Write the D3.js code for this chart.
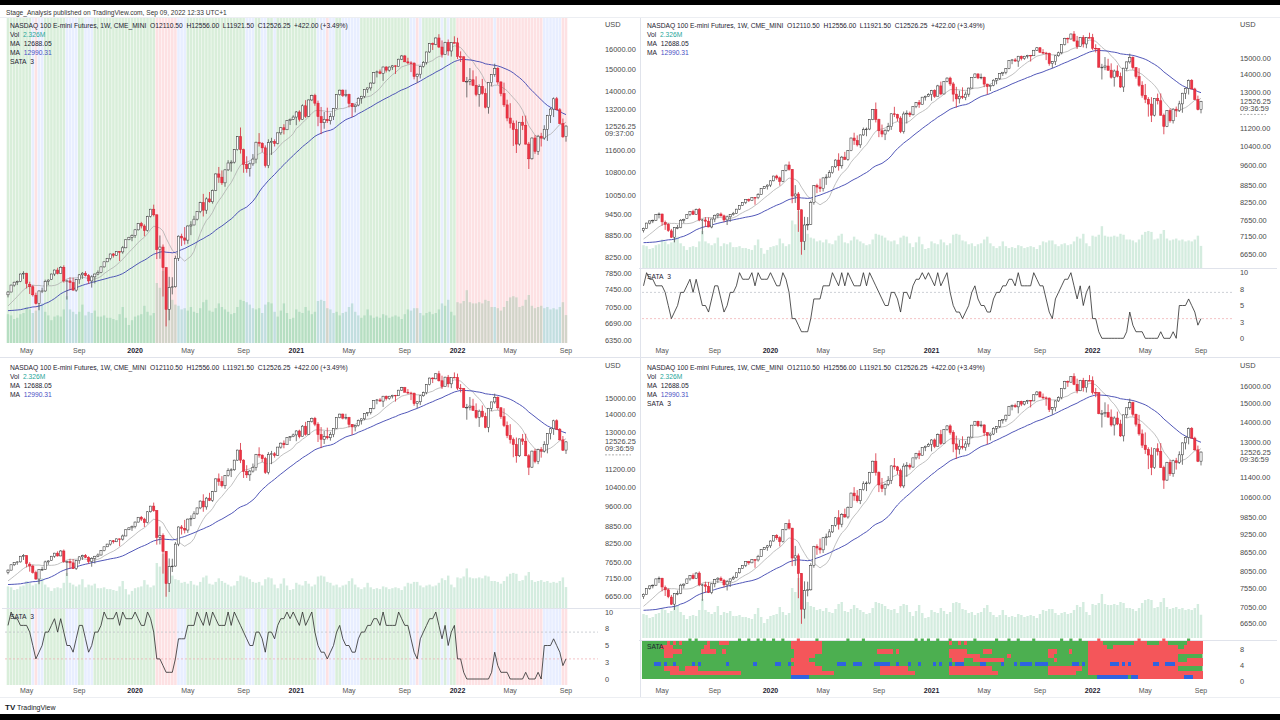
<!DOCTYPE html>
<html lang="en">
<head>
<meta charset="UTF-8">
<script src="https://d3js.org/d3.v7.min.js"></script>
<title>NASDAQ 100 E-mini Futures weekly - Stage Analysis</title>
<style>
  body { margin: 0; background: #000; }
  svg { display: block; font-family: "Liberation Sans", Arial, sans-serif; }
</style>
</head>
<body>
<script>
// ---- data (weekly bars, NQ continuous, Mar 25 2019 .. Sep 5 2022) ----
const firstWeek = new Date(2019, 2, 25);
const lastWeek = new Date(2022, 8, 5);

const opens = [
  7330,7395,7560,7630,7650,7830,7850,7580,7520,7320,
  7130,7420,7420,7650,7700,7830,7930,7840,8000,7650,
  7660,7620,7440,7690,7810,7850,7790,7660,7760,7830,
  7870,8010,8140,8230,8345,8310,8410,8400,8510,8730,
  8800,8850,9010,9190,9120,8990,9400,9620,9450,8460,
  8530,7990,7000,7500,7520,8230,8830,8780,8720,9120,
  9150,9320,9550,9820,9590,9940,9850,10210,10760,10650,
  10460,10900,11140,11170,11620,12110,11620,11090,10940,11110,
  11280,11900,11860,11690,11050,11890,11930,11850,12260,12460,
  12380,12750,12800,12890,13100,12800,13360,12920,13610,13800,
  13470,12910,12660,12800,12740,12910,13240,13840,14040,13810,
  13850,13460,13320,13390,13680,13770,14070,14140,14360,14840,
  14880,14810,15110,14960,15110,15170,15140,15490,15650,15360,
  15310,15300,14660,14770,15140,15330,15850,16280,16230,16570,
  16100,15720,16340,15900,16330,16320,15620,15610,14440,14440,
  14510,14260,13850,14210,13900,13300,14380,14760,15040,14410,
  13890,13398.75,12850,12640,12390,11830,12680,12560,11830,11290,
  12060,11560,12130,12060,12400,12960,13220,13660,13190,12630,
  12110.5
];
const highs = [
  7420,7570,7640,7670,7840,7900,7860,7640,7560,7380,
  7430,7500,7690,7700,7840,7940,7990,8030,8050,7690,
  7750,7740,7700,7830,7880,7900,7830,7800,7840,7920,
  8020,8140,8240,8350,8370,8420,8420,8560,8740,8810,
  8880,9030,9200,9240,9170,9420,9630,9760,9460,8850,
  8600,8000,7760,7750,8300,8850,8900,9090,9140,9260,
  9420,9560,9850,10100,9990,10160,10240,10780,11000,10880,
  10920,11240,11240,11640,12130,12470,11660,11380,11160,11460,
  11920,12250,11900,11780,12010,12070,12010,12270,12490,12600,
  12760,12830,12960,13140,13170,13420,13600,13630,13840,13880,
  13580,13310,13100,13280,13050,13260,13850,14060,14070,14060,
  13880,13480,13430,13730,13790,14080,14150,14390,14860,14940,
  14990,15130,15150,15130,15200,15190,15510,15700,15700,15560,
  15390,15330,14800,15170,15400,15860,16310,16330,16600,16770,
  16440,16370,16490,16350,16660,16580,15880,15630,14640,15060,
  14950,14670,14300,14550,14120,14400,14770,15270,15100,14440,
  14380,13620,13470,12750,12750,12690,12940,12950,11910,12080,
  12170,12180,12260,12560,12980,13270,13720,13740,13260,12830,
  12556
];
const lows = [
  7270,7390,7520,7560,7630,7710,7480,7350,7290,7110,
  6980,7370,7400,7560,7690,7780,7820,7830,7620,7220,
  7440,7430,7400,7590,7710,7770,7590,7500,7600,7800,
  7850,7990,8130,8180,8250,8300,8160,8350,8500,8720,
  8690,8780,8990,9050,8830,8960,9370,9400,8210,8220,
  7290,6630,6760,7340,7500,8160,8560,8600,8620,8860,
  9140,9280,9500,9400,9480,9820,9790,10190,10460,10390,
  10330,10860,10840,11120,11590,11480,10800,10800,10670,11040,
  11130,11740,11530,10980,10960,11430,11740,11820,12180,12200,
  12370,12570,12770,12560,12710,12790,12850,12900,13560,13360,
  12520,12210,12420,12650,12590,12770,13220,13800,13740,13730,
  13290,12890,13080,13340,13450,13690,13920,14020,14320,14620,
  14770,14460,14850,14890,14970,14780,15130,15450,15350,15240,
  14870,14530,14380,14570,15080,15230,15800,15950,16200,16050,
  15570,15700,15670,15620,16300,15500,15350,14410,13720,14260,
  14220,13770,13320,13840,13250,13030,14220,14650,14290,13770,
  13310,12720,12440,11760,11500,11770,12370,11810,10930,11260,
  11470,11430,11740,11990,11950,12650,12890,13170,12600,12070,
  11921.5
];
const closes = [
  7395,7560,7630,7650,7830,7850,7600,7520,7330,7130,
  7420,7420,7650,7680,7830,7930,7840,8000,7660,7660,
  7620,7440,7690,7810,7850,7790,7660,7760,7830,7870,
  8010,8140,8230,8345,8310,8410,8400,8510,8730,8800,
  8850,9010,9190,9120,8990,9400,9620,9450,8460,8530,
  7990,7000,7500,7520,8230,8830,8780,8720,9120,9150,
  9320,9550,9820,9590,9940,9850,10210,10760,10650,10460,
  10900,11140,11170,11620,12110,11620,11090,10940,11110,11280,
  11900,11860,11690,11050,11890,11930,11850,12260,12460,12380,
  12750,12800,12890,13100,12800,13360,12920,13610,13800,13470,
  12910,12660,12800,12740,12910,13240,13840,14040,13810,13850,
  13460,13320,13390,13680,13770,14070,14140,14360,14840,14880,
  14810,15110,14960,15110,15170,15140,15490,15650,15360,15310,
  15300,14660,14770,15140,15330,15850,16280,16230,16570,16100,
  15720,16340,15900,16330,16320,15620,15610,14440,14440,14510,
  14260,13850,14210,13900,13300,14380,14760,15040,14410,13890,
  13398.75,12850,12640,12390,11830,12680,12560,11830,11290,12060,
  11560,12130,12060,12400,12960,13220,13660,13190,12630,12104.25,
  12526.25
];
// closes of the 39 weeks before the first bar (only feed the moving averages)
const priorCloses = [
  7040,7200,7380,7360,7240,7350,7390,7300,7460,7650,
  7450,7500,7460,7630,7360,7150,7080,6880,6990,6950,
  6800,6480,6950,6600,6600,6200,6330,6460,6650,6850,
  6870,6900,6920,7040,7080,7060,6970,7280,7230
];
// weekly volume, millions of contracts
const volumes = [
  2.4,2.3,2.0,2.1,2.4,2.5,3.0,2.8,2.5,2.7,
  3.2,3.3,2.6,2.3,1.9,2.2,2.3,2.2,2.8,3.9,
  2.8,2.6,2.4,2.6,3.2,2.3,2.6,2.5,2.7,2.2,
  2.2,2.3,2.1,2.1,2.0,1.9,2.4,3.0,2.1,1.5,
  1.9,2.2,2.3,2.4,3.1,2.6,2.3,2.5,5.0,4.6,
  6.0,5.2,4.6,3.6,3.2,3.1,2.8,2.9,2.7,3.0,
  2.6,2.5,2.9,3.4,3.6,2.7,2.6,2.9,3.3,3.0,
  2.8,2.6,2.4,2.5,3.0,3.6,3.5,3.4,3.2,2.9,
  2.8,2.9,2.5,3.2,3.4,3.3,2.6,2.2,2.7,3.3,
  2.5,2.0,2.1,2.8,2.6,2.5,3.0,2.7,2.4,2.6,
  3.5,3.6,3.5,2.9,2.8,2.5,2.6,2.3,2.5,2.6,
  3.0,3.3,2.6,2.3,2.1,2.3,2.8,2.3,2.1,2.2,
  2.1,2.4,2.3,2.1,2.2,2.3,2.2,2.0,2.4,2.8,
  2.7,2.9,2.9,2.5,2.3,2.5,2.6,2.4,2.5,2.8,
  3.3,3.1,3.6,2.6,2.3,3.4,3.3,3.5,4.4,3.4,
  3.3,3.3,3.4,3.3,3.6,3.5,3.0,3.0,2.9,2.7,
  3.0,3.5,3.8,3.9,3.8,3.0,3.1,3.6,4.0,3.1,
  2.9,3.0,3.1,2.9,3.0,2.8,2.9,2.8,3.0,3.4,
  2.326
];
// SATA stage score 0..10
const sata = [
  8,10,9,9,8,8,8,7,5,3,
  4,5,7,7,8,9,7,9,7,5,
  5,4,6,8,8,6,4,5,7,7,
  8,10,9,9,9,10,8,10,9,9,
  9,10,9,8,8,10,9,7,3,3,
  2,1,1,1,3,6,6,6,8,8,
  8,10,9,8,10,8,10,9,8,8,
  8,10,8,10,9,8,7,6,5,5,
  7,7,6,4,7,7,6,8,9,9,
  10,9,10,9,8,10,8,9,10,7,
  5,4,4,3,4,5,7,8,6,5,
  5,4,4,6,7,7,8,8,9,9,
  8,10,8,8,8,8,10,9,8,8,
  6,4,3,6,7,8,9,9,10,8,
  6,8,5,7,8,3,3,1,0,0,
  0,0,0,0,0,0,1,4,2,1,
  1,1,0,0,0,0,0,1,0,0,
  0,1,0,5,5,5,6,5,4,2,
  3
];
// SATA criteria heatmap: rows bottom (0) to top (8); spans of weeks [from, to, colour]
const heatRows = [
  [[48,53,'b'],[147,156,'b'],[158,159,'b'],[160,174,'r'],[175,177,'b'],[178,180,'r']],
  [[9,31,'r'],[48,61,'r'],[77,87,'r'],[99,114,'r'],[131,139,'r'],[144,180,'r']],
  [[7,11,'r'],[14,17,'r'],[48,57,'r'],[77,85,'r'],[99,112,'r'],[131,141,'r'],[144,172,'r']],
  [[4,5,'b'],[7,7,'b'],[10,10,'b'],[16,16,'b'],[18,18,'b'],[27,27,'b'],[36,36,'b'],[43,44,'b'],[47,47,'b'],
   [49,55,'r'],[63,65,'b'],[68,70,'b'],[75,79,'b'],[82,82,'b'],[86,86,'b'],[89,89,'b'],[94,94,'b'],[96,96,'b'],
   [99,99,'b'],[101,103,'b'],[109,110,'b'],[116,116,'b'],[120,120,'b'],[122,125,'b'],[127,130,'b'],
   [139,140,'b'],[142,142,'b'],[144,150,'r'],[151,153,'b'],[154,154,'r'],[155,155,'b'],[156,156,'r'],
   [157,157,'b'],[158,164,'r'],[165,166,'b'],[167,168,'r'],[169,171,'b'],[172,180,'r']],
  [[48,53,'r'],[100,103,'r'],[107,116,'r'],[133,133,'r'],[144,172,'r'],[176,180,'r']],
  [[7,9,'r'],[49,55,'r'],[99,108,'r'],[118,118,'r'],[131,132,'r'],[144,172,'r']],
  [[7,12,'r'],[19,23,'r'],[26,26,'r'],[49,57,'r'],[76,80,'r'],[82,82,'r'],[99,104,'r'],[110,112,'r'],
   [131,133,'r'],[138,138,'r'],[144,180,'r']],
  [[6,9,'r'],[20,21,'r'],[48,57,'r'],[144,149,'r'],[152,172,'r'],[175,180,'r']],
  [[8,8,'r'],[10,10,'r'],[12,12,'r'],[21,21,'r'],[25,27,'r'],[48,57,'r'],[99,99,'r'],[102,102,'r'],
   [104,104,'r'],[144,148,'r'],[159,162,'r'],[167,169,'r'],[176,180,'r']]
];
const heatTopTicks = [[15,'g'],[17,'g'],[31,'g'],[34,'g'],[37,'g'],[39,'g'],[42,'g'],[45,'g'],[50,'r'],[56,'g'],
  [66,'g'],[71,'g'],[88,'g'],[90,'g'],[92,'g'],[95,'g'],[99,'g'],[107,'g'],[114,'g'],[118,'g'],[121,'g'],
  [126,'g'],[135,'g'],[138,'g'],[141,'g'],[147,'r'],[160,'r'],[168,'r'],[176,'g']];

// moving average lengths (weeks)
const maFast = 10, maSlow = 30;

// axis tick labels
const ticksTL = [16000,15000,14000,13200,11600,10800,10050,9450,8850,8250,7850,7450,7050,6690,6350];
const ticksTR = [15000,14000,13000,11200,10400,9600,8850,8250,7650,7150,6650];
const ticksBL = [15000,14000,13000,11200,10400,9600,8850,8250,7650,7150,6650];
const ticksBR = [16000,15000,14000,13000,11400,10600,9850,9250,8650,8050,7550,7050,6650];
const sataTicks = [10,7.5,5,2.5,0];
const heatTicks = [8,4,0];
const monthsShown = [0,4,8]; // Jan (year label), May, Sep

// ---- derived ----
const weeks = d3.timeMonday.range(firstWeek, d3.timeDay.offset(lastWeek, 1));
const N = closes.length;
const allCloses = priorCloses.concat(closes);
function sma(n) {
  const off = priorCloses.length;
  return closes.map((c, i) => d3.mean(allCloses.slice(i + off - n + 1, i + off + 1)));
}
const maA = sma(maFast), maB = sma(maSlow);
const stageColor = v => v >= 7 ? 'rgba(76,175,80,0.21)' : v <= 3 ? 'rgba(242,54,69,0.15)' : 'rgba(41,98,255,0.11)';
const timeTicks = weeks.map((d, i) => ({d, i})).filter(({d, i}) =>
  monthsShown.includes(d.getMonth()) && (i === 0 ? d.getDate() <= 7 : weeks[i-1].getMonth() !== d.getMonth()));

// ---- canvas ----
const W = 1280, H = 720;
const svg = d3.select('body').append('svg').attr('width', W).attr('height', H);
svg.append('rect').attr('width', W).attr('height', H).attr('fill', '#000');
svg.append('rect').attr('y', 5).attr('width', W).attr('height', 709).attr('fill', '#fff');
const defs = svg.append('defs');

svg.append('text').attr('x', 6).attr('y', 14.5).attr('font-size', 6.6).attr('fill', '#333')
  .text('Stage_Analysis published on TradingView.com, Sep 09, 2022 12:33 UTC+1');

// panel frames
svg.append('line').attr('x1', 640.5).attr('x2', 640.5).attr('y1', 17).attr('y2', 697).attr('stroke', '#e0e3eb');
svg.append('line').attr('x1', 0).attr('x2', W).attr('y1', 357.5).attr('y2', 357.5).attr('stroke', '#e0e3eb');
svg.append('line').attr('x1', 0).attr('x2', W).attr('y1', 17.5).attr('y2', 17.5).attr('stroke', '#eceef2');
svg.append('line').attr('x1', 0).attr('x2', W).attr('y1', 697.5).attr('y2', 697.5).attr('stroke', '#eceef2');

const xLeft = d3.scaleLinear().domain([0, N - 1]).range([8, 566]);
const xRight = d3.scaleLinear().domain([0, N - 1]).range([643.5, 1201]);

const panels = [
  {id: 'tl', x: xLeft, left: 5, right: 598, top: 18, bottom: 343, yDomain: [6350, 16000], yRange: [340, 49],
   ticks: ticksTL, axisX: 605, volPx: 12, stripes: true, countdown: '09:37:00', timeY: 352.5,
   legendX: 10, legendY: 25.5, sataInLegend: true},
  {id: 'tr', x: xRight, left: 642, right: 1232, top: 18, bottom: 268, yDomain: [6650, 15000], yRange: [254, 58],
   ticks: ticksTR, axisX: 1240, volPx: 9.5, countdown: '09:36:59', dash: true, timeY: 352.5,
   legendX: 647, legendY: 25.5, sub: {type: 'line', top: 269, bottom: 345, y0: 338.3, y10: 272.7}},
  {id: 'bl', x: xLeft, left: 5, right: 598, top: 359, bottom: 608, yDomain: [6650, 15000], yRange: [596, 398],
   ticks: ticksBL, axisX: 605, volPx: 9, countdown: '09:36:59', dash: true, timeY: 692.5,
   legendX: 10, legendY: 367.5, sub: {type: 'line', top: 609, bottom: 685, y0: 679, y10: 612, stripes: true}},
  {id: 'br', x: xRight, left: 642, right: 1232, top: 359, bottom: 638, yDomain: [6650, 16000], yRange: [623, 386],
   ticks: ticksBR, axisX: 1240, volPx: 10, countdown: '09:36:59', timeY: 692.5,
   legendX: 647, legendY: 367.5, sataInLegend: true, sub: {type: 'heat', top: 641, bottom: 679, y0: 681, y10: 641}}
];

const fmt2 = d3.format('.2f');
const upFill = '#ffffff', upLine = '#3a3a3a', dnFill = '#ee3343', dnLine = '#d62839';
const heatCol = {g: '#4caf50', r: '#f4565a', b: '#2f63e0'};
const sp = '\u00a0';

panels.forEach(p => {
  const g = svg.append('g');
  const x = p.x;
  const step = x(1) - x(0);
  const y = d3.scaleLog().domain(p.yDomain).range(p.yRange);
  defs.append('clipPath').attr('id', 'clip-' + p.id).append('rect')
    .attr('x', p.left).attr('y', p.top).attr('width', p.right - p.left).attr('height', p.bottom - p.top);
  const plot = g.append('g').attr('clip-path', `url(#clip-${p.id})`);

  // stage background
  if (p.stripes) {
    plot.append('g').selectAll('rect').data(sata).join('rect')
      .attr('x', (v, i) => x(i) - step / 2 + 0.25).attr('width', step - 0.5)
      .attr('y', p.top).attr('height', p.bottom - p.top)
      .attr('fill', v => stageColor(v));
  }

  // volume
  plot.append('g').selectAll('rect').data(volumes).join('rect')
    .attr('x', (v, i) => x(i) - 1.2).attr('width', 2.4)
    .attr('y', v => p.bottom - v * p.volPx).attr('height', v => v * p.volPx)
    .attr('fill', 'rgba(60,170,110,0.22)');

  // moving averages
  const line = d3.line().x((v, i) => x(i)).y(v => y(v));
  plot.append('path').attr('d', line(maA)).attr('fill', 'none').attr('stroke', '#ababab').attr('stroke-width', 0.75);
  plot.append('path').attr('d', line(maB)).attr('fill', 'none').attr('stroke', '#3d44b0').attr('stroke-width', 0.9);

  // candles
  const idx = d3.range(N);
  const up = i => closes[i] >= opens[i];
  plot.append('g').selectAll('line').data(idx).join('line')
    .attr('x1', i => x(i)).attr('x2', i => x(i))
    .attr('y1', i => y(highs[i])).attr('y2', i => y(lows[i]))
    .attr('stroke', i => up(i) ? '#555' : dnLine).attr('stroke-width', 0.8);
  plot.append('g').selectAll('rect').data(idx).join('rect')
    .attr('x', i => x(i) - 1.1).attr('width', 2.2)
    .attr('y', i => y(Math.max(opens[i], closes[i])))
    .attr('height', i => Math.max(0.7, Math.abs(y(opens[i]) - y(closes[i]))))
    .attr('fill', i => up(i) ? upFill : dnFill)
    .attr('stroke', i => up(i) ? upLine : dnLine).attr('stroke-width', 0.55);

  // price axis
  const ax = g.append('g').attr('font-size', 7.4).attr('fill', '#4a4a4a');
  ax.append('text').attr('x', p.axisX).attr('y', p.top + 8.5).text('USD');
  ax.selectAll('text.t').data(p.ticks).join('text').attr('class', 't')
    .attr('x', p.axisX).attr('y', v => y(v) + 2.6).text(v => fmt2(v));
  const last = closes[N - 1];
  ax.append('text').attr('x', p.axisX).attr('y', y(last) + 2.6).text(fmt2(last));
  ax.append('text').attr('x', p.axisX).attr('y', y(last) + 9.6).text(p.countdown);
  if (p.dash) {
    ax.append('line').attr('x1', p.axisX).attr('x2', p.axisX + 26).attr('y1', y(last) + 13).attr('y2', y(last) + 13)
      .attr('stroke', '#777').attr('stroke-width', 0.6).attr('stroke-dasharray', '2,1.5');
  }

  // legend
  const lg = g.append('g').attr('font-size', 6.7).attr('fill', '#1e2230');
  const lh = 8.9;
  const chg = last - closes[N-2];
  lg.append('text').attr('x', p.legendX).attr('y', p.legendY + 2.4)
    .text(`NASDAQ 100 E-mini Futures, 1W, CME_MINI${sp}${sp}O${fmt2(opens[N-1])}${sp}${sp}H${fmt2(highs[N-1])}${sp}${sp}L${fmt2(lows[N-1])}${sp}${sp}C${fmt2(last)}${sp}${sp}+${fmt2(chg)} (+${fmt2(chg / closes[N-2] * 100)}%)`);
  const t2 = lg.append('text').attr('x', p.legendX).attr('y', p.legendY + lh + 2.4);
  t2.append('tspan').text('Vol' + sp + sp);
  t2.append('tspan').attr('fill', '#26a69a').text(d3.format('.3f')(volumes[N-1]) + 'M');
  lg.append('text').attr('x', p.legendX).attr('y', p.legendY + 2 * lh + 2.4).text('MA' + sp + sp + fmt2(maA[N-1]));
  const t4 = lg.append('text').attr('x', p.legendX).attr('y', p.legendY + 3 * lh + 2.4);
  t4.append('tspan').text('MA' + sp + sp);
  t4.append('tspan').attr('fill', '#4a4fc4').text(fmt2(maB[N-1]));
  if (p.sataInLegend) {
    lg.append('text').attr('x', p.legendX).attr('y', p.legendY + 4 * lh + 2.4).text('SATA' + sp + sp + sata[N-1]);
  }

  // sub pane
  const s = p.sub;
  if (s) {
    g.append('line').attr('x1', p.left - 3).attr('x2', p.left - 3 + 638).attr('y1', s.top - 0.5).attr('y2', s.top - 0.5)
      .attr('stroke', '#e0e3eb');
    const ys = d3.scaleLinear().domain([0, 10]).range([s.y0, s.y10]);
    const sub = g.append('g');
    if (s.type === 'line') {
      if (s.stripes) {
        sub.append('g').selectAll('rect').data(sata).join('rect')
          .attr('x', (v, i) => x(i) - step / 2 + 0.25).attr('width', step - 0.5)
          .attr('y', s.top).attr('height', s.bottom - s.top).attr('fill', v => stageColor(v));
      }
      sub.append('line').attr('x1', p.left).attr('x2', p.right).attr('y1', ys(7)).attr('y2', ys(7))
        .attr('stroke', '#b8bcc4').attr('stroke-width', 0.7).attr('stroke-dasharray', '2,2');
      sub.append('line').attr('x1', p.left).attr('x2', p.right).attr('y1', ys(3)).attr('y2', ys(3))
        .attr('stroke', '#efa9ae').attr('stroke-width', 0.7).attr('stroke-dasharray', '2,2');
      sub.append('path').attr('d', d3.line().x((v, i) => x(i)).y(v => ys(v))(sata))
        .attr('fill', 'none').attr('stroke', '#2b2b2b').attr('stroke-width', 0.8);
      sub.append('text').attr('x', p.legendX).attr('y', s.y10 + 6.5).attr('font-size', 6.7).attr('fill', '#1e2230')
        .text('SATA' + sp + sp + sata[N-1]);
      g.append('g').attr('font-size', 7.4).attr('fill', '#4a4a4a').selectAll('text').data(sataTicks).join('text')
        .attr('x', p.axisX).attr('y', v => ys(v) + 2.6).text(v => d3.format('.0f')(v));
    } else {
      const rowH = (s.bottom - s.top) / heatRows.length;
      // solid green base so the cells do not show seams
      sub.append('rect').attr('x', x(0) - step / 2).attr('width', x(N - 1) - x(0) + step)
        .attr('y', s.top).attr('height', s.bottom - s.top).attr('fill', heatCol.g);
      heatRows.forEach((spans, r) => {
        spans.forEach(([a, b, c]) => {
          sub.append('rect').attr('x', x(a) - step / 2).attr('width', x(b) - x(a) + step)
            .attr('y', s.bottom - (r + 1) * rowH).attr('height', rowH)
            .attr('fill', heatCol[c]).attr('shape-rendering', 'crispEdges');
        });
      });
      sub.append('g').selectAll('rect').data(heatTopTicks).join('rect')
        .attr('x', d => x(d[0]) - step / 2).attr('width', step)
        .attr('y', s.top - 2.5).attr('height', 2.5).attr('fill', d => heatCol[d[1]]);
      sub.append('text').attr('x', p.legendX).attr('y', s.top + 7.5).attr('font-size', 6.7).attr('fill', '#1e2230').text('SATA');
      g.append('g').attr('font-size', 7.4).attr('fill', '#4a4a4a').selectAll('text').data(heatTicks).join('text')
        .attr('x', p.axisX).attr('y', v => ys(v) + 2.6).text(v => v);
    }
  }

  // time axis
  g.append('g').attr('font-size', 7).selectAll('text').data(timeTicks).join('text')
    .attr('x', d => x(d.i)).attr('y', p.timeY).attr('text-anchor', 'middle')
    .attr('font-weight', d => d.d.getMonth() === 0 ? 'bold' : 'normal')
    .attr('fill', d => d.d.getMonth() === 0 ? '#1e2230' : '#555')
    .text(d => d.d.getMonth() === 0 ? d3.timeFormat('%Y')(d.d) : d3.timeFormat('%b')(d.d));
});

// footer logo
const logo = svg.append('g');
logo.append('text').attr('x', 5).attr('y', 710).attr('font-size', 8).attr('font-weight', 'bold').attr('fill', '#131722').text('TV');
logo.append('text').attr('x', 17).attr('y', 710).attr('font-size', 7).attr('fill', '#131722').text('TradingView');
</script>
</body>
</html>
